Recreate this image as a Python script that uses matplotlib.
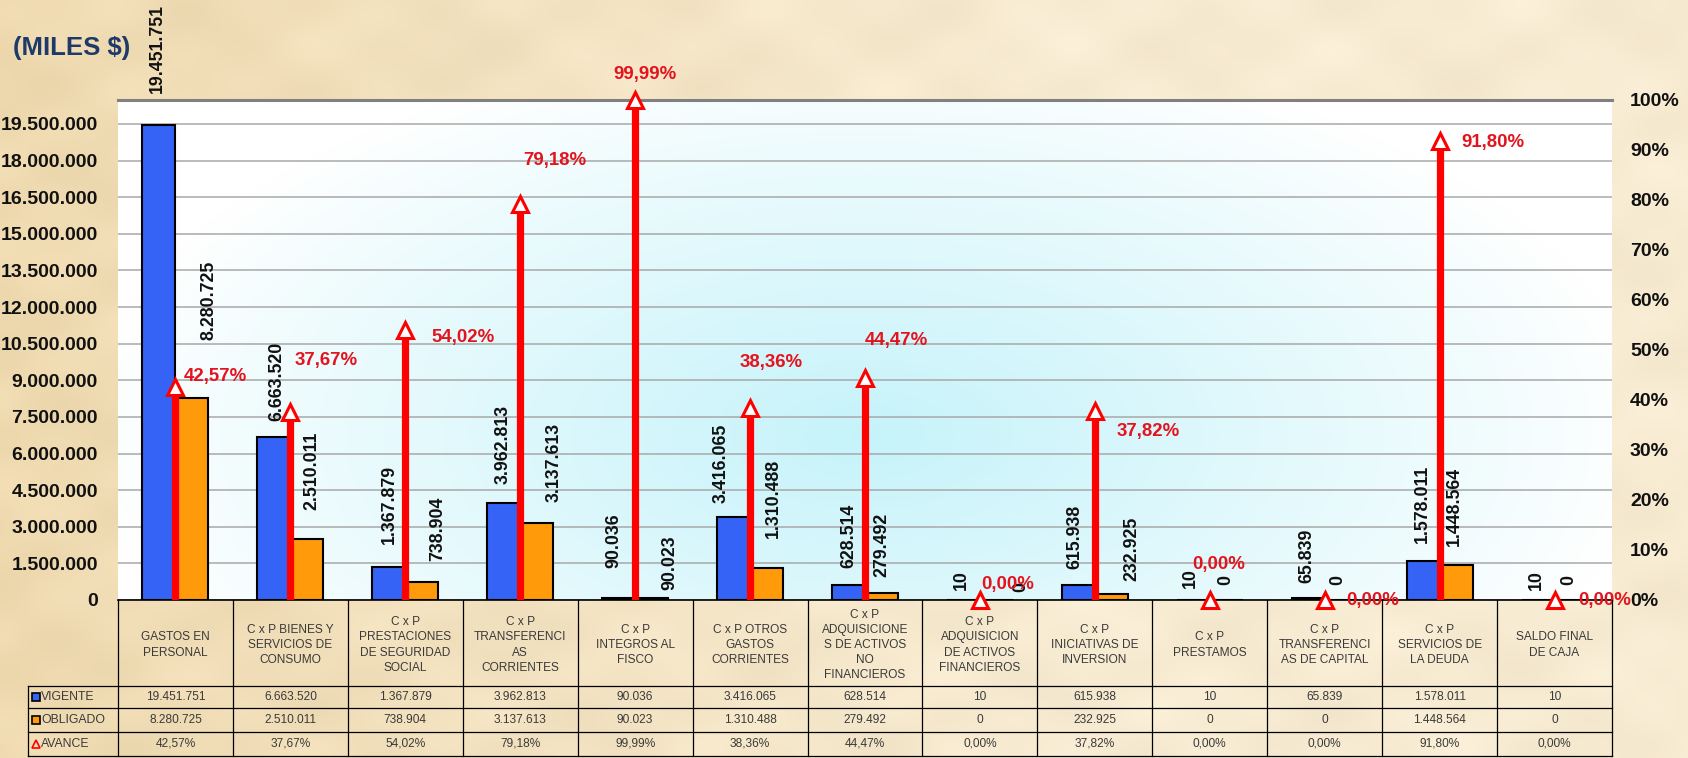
import numpy as np
import matplotlib
matplotlib.use("Agg")
import matplotlib.pyplot as plt
from matplotlib.colors import to_rgb

plt.rcParams['font.family'] = ['Liberation Sans', 'DejaVu Sans']

# ---------------- data ----------------
categories = [
    "GASTOS EN\nPERSONAL",
    "C x P BIENES Y\nSERVICIOS DE\nCONSUMO",
    "C x P\nPRESTACIONES\nDE SEGURIDAD\nSOCIAL",
    "C x P\nTRANSFERENCI\nAS\nCORRIENTES",
    "C x P\nINTEGROS AL\nFISCO",
    "C x P OTROS\nGASTOS\nCORRIENTES",
    "C x P\nADQUISICIONE\nS DE ACTIVOS\nNO\nFINANCIEROS",
    "C x P\nADQUISICION\nDE ACTIVOS\nFINANCIEROS",
    "C x P\nINICIATIVAS DE\nINVERSION",
    "C x P\nPRESTAMOS",
    "C x P\nTRANSFERENCI\nAS DE CAPITAL",
    "C x P\nSERVICIOS DE\nLA DEUDA",
    "SALDO FINAL\nDE CAJA",
]
vigente = [19451751, 6663520, 1367879, 3962813, 90036, 3416065, 628514,
           10, 615938, 10, 65839, 1578011, 10]
obligado = [8280725, 2510011, 738904, 3137613, 90023, 1310488, 279492,
            0, 232925, 0, 0, 1448564, 0]
avance = [42.57, 37.67, 54.02, 79.18, 99.99, 38.36, 44.47,
          0.00, 37.82, 0.00, 0.00, 91.80, 0.00]
left_ticks = [0, 1500000, 3000000, 4500000, 6000000, 7500000, 9000000,
              10500000, 12000000, 13500000, 15000000, 16500000, 18000000, 19500000]
right_ticks = [0, 10, 20, 30, 40, 50, 60, 70, 80, 90, 100]
series_names = ["VIGENTE", "OBLIGADO", "AVANCE"]
title = "(MILES $)"

# ---------------- label placement (style, pixels) ----------------
blue_dx = [-2, 3, 1, -1, -5, -12, 0, -2, -3, -3, -1, -1, -2]
blue_gap = [32, 16, 23, 19, 30, 14, 17, 10, 16, 12, 15, 18, 10]
orange_dx = [17, 5, 16, 17, 18, 7, 0, 24, 21, -1, -3, -2, -2]
orange_gap = [58, 29, 21, 21, 8, 30, 16, 8, 13, 15, 15, 19, 15]
pct_dx = [8, 4, 26, 3, -22, -10, 0, 1, 22, -18, 22, 22, 24]
pct_dy = [10.5, 51, -8, 44, 26, 46, 37, 15, -21, 36, 0, -1, 0]

BLUE = "#3563F5"
ORANGE = "#FF9A0A"
RED = "#FF0000"
RED_TXT = "#E3141E"
TXT = "#3A3A3A"
PX = 0.72  # px -> points at dpi 100

def fmt_num(v):
    return f"{v:,}".replace(",", ".")

def fmt_pct(p):
    return f"{p:.2f}%".replace(".", ",")

W, H = 1688, 758
fig = plt.figure(figsize=(W / 100, H / 100), dpi=100)
fig.patch.set_facecolor("#F5E7CA")

# ---- parchment background ----
bg = fig.add_axes([0, 0, 1, 1], zorder=-5)
bg.axis("off")
hh, ww = 190, 422
yy, xx = np.mgrid[0:hh, 0:ww] / np.array([hh, ww])[:, None, None]
c_left = np.array(to_rgb("#EFDAB0"))
c_right = np.array(to_rgb("#F7EBD2"))
t = np.clip(xx * 1.6, 0, 1)[..., None]
base = c_left * (1 - t) + c_right * t
mott = (0.012 * np.sin(xx * 37 + yy * 11) * np.cos(yy * 29 - xx * 7)
        + 0.008 * np.sin(xx * 83 + 2.0) * np.sin(yy * 61 + 1.0))
img = np.clip(base + mott[..., None] * np.array([1.0, 1.1, 1.4]), 0, 1)
bg.imshow(img, extent=(0, 1, 0, 1), aspect="auto", interpolation="bicubic")
bg.set_xlim(0, 1); bg.set_ylim(0, 1)

# ---- main axes ----
ax_l, ax_r, ax_t, ax_b = 118, 1612, 100, 600
ax = fig.add_axes([ax_l / W, 1 - ax_b / H, (ax_r - ax_l) / W, (ax_b - ax_t) / H])
ax.set_facecolor("white")

# plot-area gradient (white -> light cyan)
gh, gw = 200, 400
gy, gx = np.mgrid[0:gh, 0:gw]
gx = gx / (gw - 1); gy = 1 - gy / (gh - 1)
d = np.sqrt(((gx - 0.5) / 0.52) ** 2 + ((gy - 0.33) / 0.78) ** 2)
k = np.clip(1 - d, 0, 1) ** 0.9
cyan = np.array(to_rgb("#C6F3FA"))
grad = np.ones((gh, gw, 3)) * (1 - k[..., None]) + cyan * k[..., None]
ax.imshow(grad, extent=(0, 1, 0, 1), transform=ax.transAxes, aspect="auto",
          zorder=0, interpolation="bicubic")

x = np.arange(len(categories))
bw = 0.287
ax.bar(x - bw / 2, vigente, bw, color=BLUE, edgecolor="black", linewidth=1.5, zorder=2)
ax.bar(x + bw / 2, obligado, bw, color=ORANGE, edgecolor="black", linewidth=1.5, zorder=2)

ax.set_xlim(-0.5, len(categories) - 0.5)
ax.set_ylim(0, 20.48e6)
ax.set_xticks([])
ax.set_yticks(left_ticks)
ax.set_yticklabels([fmt_num(v) for v in left_ticks], fontsize=14, fontweight="bold",
                   color="#111111")
ax.tick_params(axis="y", length=0, pad=20 * PX)
ax.yaxis.grid(True, color="#A8A8A8", linewidth=1.1, zorder=0.5)
ax.set_axisbelow(True)
for s in ("left", "right"):
    ax.spines[s].set_visible(False)
ax.spines["top"].set_color("#808080")
ax.spines["top"].set_linewidth(2.2)
ax.spines["bottom"].set_color("black")
ax.spines["bottom"].set_linewidth(1.2)

for i in range(len(categories)):
    ax.annotate(fmt_num(vigente[i]), xy=(x[i] - bw / 2, vigente[i]),
                xytext=(blue_dx[i] * PX, blue_gap[i] * PX), textcoords="offset points",
                rotation=90, ha="center", va="bottom", fontsize=12.8,
                fontweight="bold", color="#111111", annotation_clip=False, zorder=6)
    ax.annotate(fmt_num(obligado[i]), xy=(x[i] + bw / 2, obligado[i]),
                xytext=(orange_dx[i] * PX, orange_gap[i] * PX), textcoords="offset points",
                rotation=90, ha="center", va="bottom", fontsize=12.8,
                fontweight="bold", color="#111111", annotation_clip=False, zorder=6)

# ---- secondary axis: AVANCE ----
ax2 = ax.twinx()
ax2.set_ylim(0, 1)
ax2.set_yticks([v / 100 for v in right_ticks])
ax2.set_yticklabels([f"{v}%" for v in right_ticks], fontsize=14, fontweight="bold",
                    color="#111111")
ax2.tick_params(axis="y", length=0, pad=18 * PX)
for s in ax2.spines.values():
    s.set_visible(False)

av = np.array(avance) / 100
ax2.vlines(x, 0, av, color=RED, linewidth=5.2, zorder=3)
ax2.plot(x, av, linestyle="none", marker="^", markersize=11, markerfacecolor="white",
         markeredgecolor=RED, markeredgewidth=2.2, zorder=4, clip_on=False)
for i in range(len(categories)):
    ax2.annotate(fmt_pct(avance[i]), xy=(x[i], av[i]),
                 xytext=(pct_dx[i] * PX, pct_dy[i] * PX), textcoords="offset points",
                 ha="left", va="center", fontsize=13.4, fontweight="bold",
                 color=RED_TXT, annotation_clip=False, zorder=7)

# ---- data table under the chart ----
tax = fig.add_axes([ax_l / W, 0, (ax_r - ax_l) / W, 1], zorder=5)
tax.set_xlim(-0.5, len(categories) - 0.5)
tax.set_ylim(H, 0)
tax.axis("off")
cw = (ax_r - ax_l) / len(categories)
xl = -0.5 - (ax_l - 28) / cw
row_tops = [600, 686, 708, 732, 756]
lw_t = 0.9
for kx in range(len(categories) + 1):
    tax.plot([kx - 0.5, kx - 0.5], [row_tops[0], row_tops[-1]], color="black",
             linewidth=lw_t, clip_on=False)
tax.plot([xl, xl], [row_tops[1], row_tops[-1]], color="black", linewidth=lw_t, clip_on=False)
for yv in row_tops[1:]:
    tax.plot([xl, len(categories) - 0.5], [yv, yv], color="black", linewidth=lw_t,
             clip_on=False)

for i, c in enumerate(categories):
    tax.text(x[i], (row_tops[0] + row_tops[1]) / 2 + 2, c, ha="center", va="center",
             fontsize=8.6, color=TXT, linespacing=1.35)
rows = [[fmt_num(v) for v in vigente], [fmt_num(v) for v in obligado],
        [fmt_pct(v) for v in avance]]
for r, vals in enumerate(rows):
    yc = (row_tops[r + 1] + row_tops[r + 2]) / 2
    for i, s in enumerate(vals):
        tax.text(x[i], yc, s, ha="center", va="center", fontsize=8.6, color=TXT)
    mk = ["s", "s", "^"][r]
    fc = [BLUE, ORANGE, "none"][r]
    ec = ["black", "black", RED][r]
    tax.plot([xl + 8 / cw], [yc], marker=mk, markersize=6, markerfacecolor=fc,
             markeredgecolor=ec, markeredgewidth=1.2, linestyle="none", clip_on=False)
    tax.text(xl + 13 / cw, yc, series_names[r], ha="left", va="center", fontsize=8.8,
             color=TXT, clip_on=False)

fig.text(13 / W, 1 - 48 / H, title, ha="left", va="center", fontsize=18.5,
         fontweight="bold", color="#1F3A68")

fig.savefig("out.png", dpi=100, facecolor=fig.get_facecolor())
